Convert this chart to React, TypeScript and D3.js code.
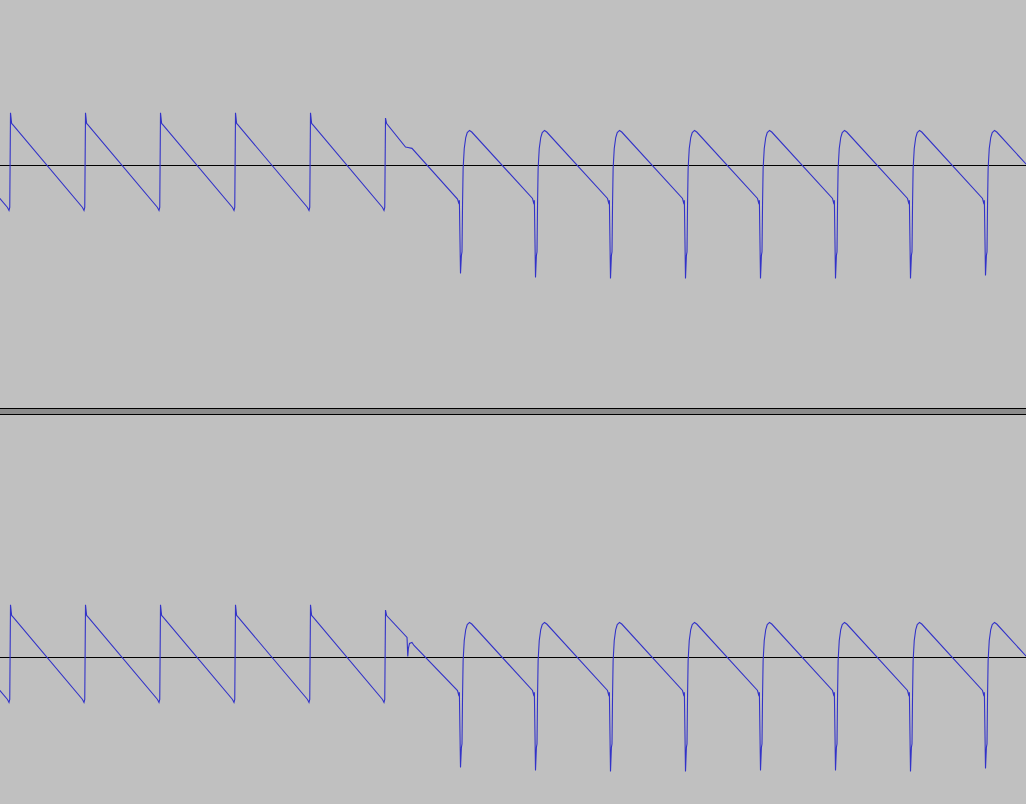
import * as d3 from "d3";

const W = 1026;
const H = 804;

// time in ms, amplitude in [-1, 1]
// old sawtooth section: rise times and the shape of one cycle
const sawRises = [-1, 0, 1, 2, 3, 4];
const sawOffsets = [0, 0.015, 0.03, 0.96, 0.98, 0.99];
const sawLevels = [0.44, 0.35, 0.34, -0.35, -0.375, -0.35];

// the cycle where the waveform changes (one per channel)
const bridgeTimesL = [5, 5.015, 5.267, 5.3, 5.353, 5.96, 5.975, 5.985];
const bridgeLevelsL = [0.395, 0.35, 0.154, 0.15, 0.143, -0.28, -0.31, -0.29];
const bridgeTimesR = [5, 5.015, 5.287, 5.297, 5.305, 5.32, 5.353, 5.38, 5.96, 5.975, 5.985];
const bridgeLevelsR = [0.395, 0.35, 0.167, 0.008, 0.075, 0.117, 0.125, 0.1, -0.275, -0.31, -0.29];

// new section: negative spike times, spike depths, and cycle shape
const pulseSpikes = [6, 7, 8, 9, 10, 11, 12, 13];
const pulseDepthL = [-0.9, -0.933, -0.942, -0.942, -0.942, -0.942, -0.942, -0.917];
const pulseDepthR = [-0.917, -0.942, -0.95, -0.95, -0.942, -0.942, -0.95, -0.925];
const pulseOffsets = [0, 0.012, 0.02, 0.027, 0.035, 0.05, 0.07, 0.09, 0.12, 0.15, 0.96, 0.975, 0.985];
const pulseLevels = [0, -0.75, -0.72, -0.333, -0.025, 0.142, 0.233, 0.275, 0.292, 0.279, -0.275, -0.31, -0.29];

function buildChannel(bt: number[], bl: number[], depths: number[]) {
  const pts: [number, number][] = [];
  sawRises.forEach((T) => sawOffsets.forEach((o, i) => pts.push([T + o, sawLevels[i]])));
  bt.forEach((t, i) => pts.push([t, bl[i]]));
  pulseSpikes.forEach((S, k) =>
    pulseOffsets.forEach((o, i) => pts.push([S + o, i === 0 ? depths[k] : pulseLevels[i]]))
  );
  return pts;
}

const channels = [
  { zero: 165, top: 0, bottom: 408, pts: buildChannel(bridgeTimesL, bridgeLevelsL, pulseDepthL) },
  { zero: 657, top: 415, bottom: H, pts: buildChannel(bridgeTimesR, bridgeLevelsR, pulseDepthR) },
];

export default function App() {
  const x = d3.scaleLinear().domain([-10 / 75, (W - 10) / 75]).range([0.5, W + 0.5]);

  return (
    <svg
      width={W}
      height={H}
      style={{ position: "absolute", left: 0, top: 0, display: "block" }}
    >
      <rect width={W} height={H} fill="#c0c0c0" />
      <defs>
        {channels.map((c, i) => (
          <clipPath id={`clip${i}`} key={i}>
            <rect x={0} y={c.top} width={W} height={c.bottom - c.top} />
          </clipPath>
        ))}
      </defs>
      {channels.map((c, i) => {
        const y = d3.scaleLinear().domain([-1, 1]).range([c.zero + 120.5, c.zero - 119.5]);
        const line = d3
          .line<[number, number]>()
          .x((d) => x(d[0]))
          .y((d) => y(d[1]));
        return (
          <g key={i} clipPath={`url(#clip${i})`}>
            <line x1={0} x2={W} y1={y(0)} y2={y(0)} stroke="#000" strokeWidth={1} />
            <path d={line(c.pts) ?? ""} fill="none" stroke="#3232c8" strokeWidth={1.1} />
          </g>
        );
      })}
      {/* track separator */}
      <rect x={0} y={408} width={W} height={7} fill="#8c8c8c" />
      <line x1={0} x2={W} y1={408.5} y2={408.5} stroke="#000" />
      <line x1={0} x2={W} y1={414.5} y2={414.5} stroke="#000" />
    </svg>
  );
}
